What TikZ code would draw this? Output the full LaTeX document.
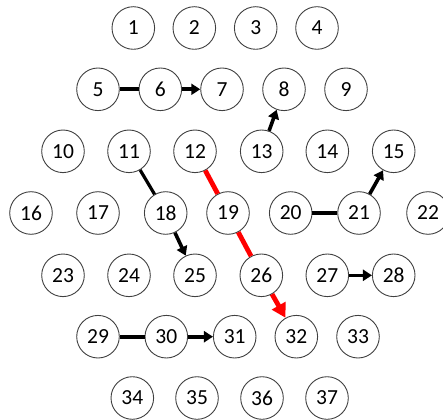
\documentclass[tikz,border=0pt]{standalone}
\usepackage{fontspec}
\setmainfont{Carlito}
\usetikzlibrary{arrows.meta}
\begin{document}
\begin{tikzpicture}[x=1pt,y=-1pt,
  nd/.style={circle,draw=black!75,line width=0.9pt,minimum size=42.6pt,inner sep=0pt,fill=white,font=\fontsize{21.5}{25}\selectfont},
  bl/.style={line width=4.2pt,black},
  ba/.style={line width=3.6pt,black,-{Triangle[length=9pt,width=11pt]}},
  rl/.style={line width=4.8pt,red},
  ra/.style={rl,-{Triangle[length=14pt,width=15pt]}}]
\useasboundingbox (0,0) rectangle (443,419);
\foreach \n/\x/\y in {1/133.3/28,2/194.3/28,3/255.7/28,4/317/28,
  5/98/89.3,6/160.3/89.3,7/222/89.3,8/284/89.3,9/346/89.3,
  10/63/151.3,11/129/151.3,12/195/151.3,13/261.7/151.3,14/327.3/151.3,15/393.7/151.3,
  16/31/213,17/98/213,18/165.7/213,19/228/213,20/290.7/213,21/359/213,22/428/213,
  23/63/275.3,24/129/275.3,25/195/275.3,26/261.3/275.3,27/327.3/275.3,28/393.7/275.3,
  29/98/336.7,30/166.3/336.7,31/234.7/336.7,32/296.3/336.7,33/358/336.7,
  34/132.3/398,35/197/398,36/262/398,37/327/398}
  \node[nd] (n\n) at (\x,\y) {\n};
\draw[bl] (n5) -- (n6);
\draw[ba] (n6) -- (n7);
\draw[ba] (n13) -- (n8);
\draw[bl,line width=3.2pt] (n11) -- (n18);
\draw[ba] (n18) -- (n25);
\draw[rl] (n12) -- (n19);
\draw[rl] (n19) -- (n26);
\draw[ra] (n26) -- (n32);
\draw[bl] (n20) -- (n21);
\draw[ba] (n21) -- (n15);
\draw[ba] (n27) -- (n28);
\draw[bl] (n29) -- (n30);
\draw[ba] (n30) -- (n31);
\end{tikzpicture}
\end{document}
